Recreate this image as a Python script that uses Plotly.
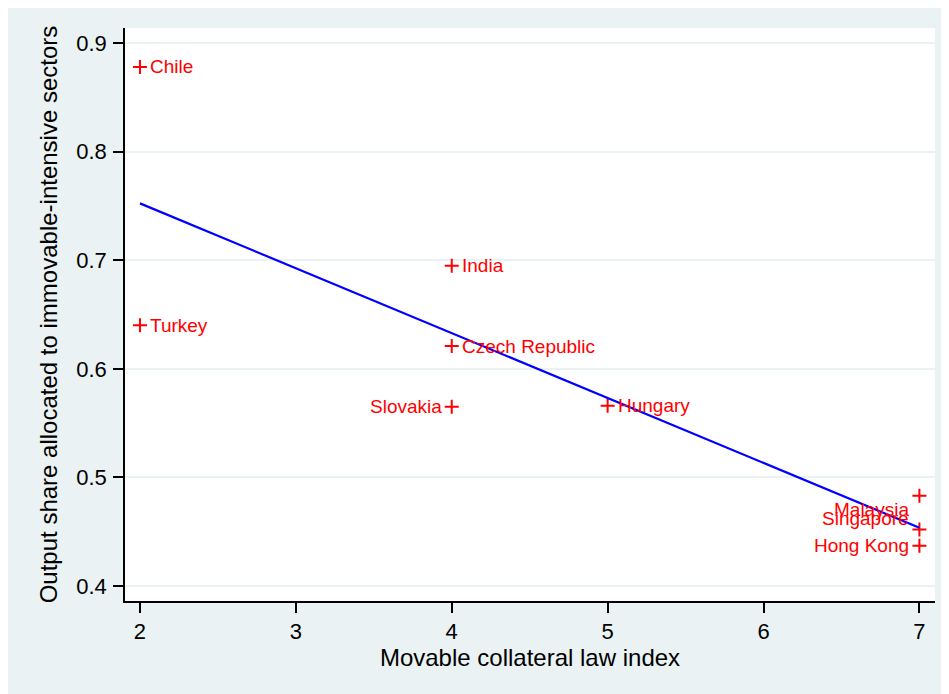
import numpy as np
import plotly.graph_objects as go

countries = ["Chile", "Turkey", "India", "Czech Republic", "Slovakia", "Hungary",
             "Malaysia", "Singapore", "Hong Kong"]
law_index = [2, 2, 4, 4, 4, 5, 7, 7, 7]
output_share = [0.878, 0.640, 0.695, 0.621, 0.565, 0.566, 0.483, 0.452, 0.437]
label_side = ["right", "right", "right", "right", "left", "right", "left", "left", "left"]
label_vshift = [0, 0, 0, 0, 0, 0, -14, 11, 0]

x_ticks = [2, 3, 4, 5, 6, 7]
y_ticks = [0.4, 0.5, 0.6, 0.7, 0.8, 0.9]

FONT = "Liberation Sans, Arial, Helvetica, sans-serif"
BG = "#eaf2f3"

slope, intercept = np.polyfit(law_index, output_share, 1)
fit_x = [min(law_index), max(law_index)]
fit_y = [intercept + slope * v for v in fit_x]

fig = go.Figure()
fig.add_trace(go.Scatter(
    x=law_index, y=output_share, mode="markers",
    marker=dict(symbol="cross-thin", size=10, line=dict(color="#ff0000", width=2), color="#ff0000"),
    showlegend=False, hoverinfo="text", text=countries))
fig.add_trace(go.Scatter(
    x=fit_x, y=fit_y, mode="lines", line=dict(color="#0000ff", width=2.2),
    showlegend=False))

for name, xv, yv, side, vs in zip(countries, law_index, output_share, label_side, label_vshift):
    fig.add_annotation(
        x=xv, y=yv, text=name, showarrow=False,
        xanchor="left" if side == "right" else "right", yanchor="middle",
        xshift=8 if side == "right" else -8, yshift=vs,
        font=dict(family=FONT, size=19, color="#ff0000"))

fig.update_layout(
    width=949, height=694,
    margin=dict(l=117, r=22, t=20, b=101),
    paper_bgcolor=BG, plot_bgcolor="white",
    font=dict(family=FONT, color="black"),
)
fig.update_xaxes(
    range=[1.904, 7.10], tickvals=x_ticks, ticktext=[str(v) for v in x_ticks],
    showgrid=False, zeroline=False,
    showline=True, linecolor="black", linewidth=1.5,
    ticks="outside", ticklen=10, tickwidth=1.5, tickcolor="black",
    tickfont=dict(size=22, family=FONT), ticklabelstandoff=0,
    title=dict(text="Movable collateral law index", font=dict(size=24, family=FONT), standoff=2),
)
fig.update_yaxes(
    range=[0.3862, 0.9138], tickvals=y_ticks, ticktext=[f"{v:.1f}" for v in y_ticks],
    showgrid=True, gridcolor=BG, gridwidth=2, zeroline=False,
    showline=True, linecolor="black", linewidth=1.5,
    ticks="outside", ticklen=10, tickwidth=1.5, tickcolor="black",
    tickfont=dict(size=22, family=FONT), ticklabelstandoff=2,
    title=dict(text="Output share allocated to immovable-intensive sectors",
               font=dict(size=24, family=FONT), standoff=12),
)

fig.write_html("out.html")
